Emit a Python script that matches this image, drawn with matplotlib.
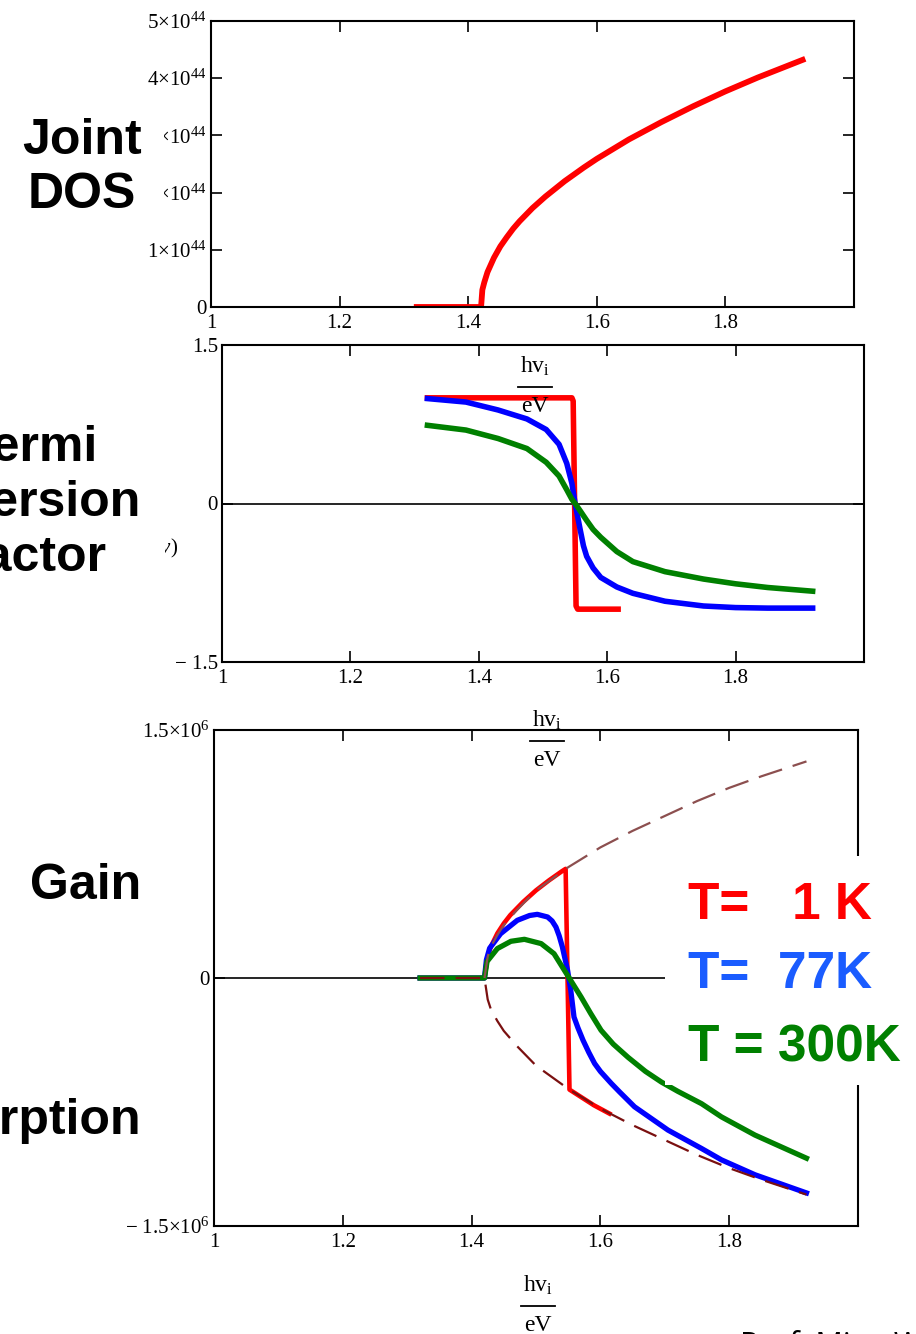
import matplotlib.pyplot as plt
from matplotlib.patches import Rectangle
from matplotlib.lines import Line2D

W, H = 916, 1334

# ---- joint density of states (units of 1e44)
jdos_x = [1.32, 1.42, 1.422, 1.425, 1.43, 1.44, 1.45, 1.46, 1.47, 1.48, 1.50,
          1.52, 1.55, 1.58, 1.60, 1.65, 1.70, 1.75, 1.80, 1.85, 1.92]
jdos_val = [0, 0, 0.30, 0.43, 0.61, 0.86, 1.06, 1.22, 1.37, 1.50, 1.73,
            1.93, 2.20, 2.44, 2.59, 2.93, 3.23, 3.51, 3.77, 4.01, 4.32]

# ---- Fermi inversion factor
fermi_x_1K = [1.32, 1.545, 1.547, 1.5515, 1.554, 1.617]
fermi_1K = [1.0, 1.0, 0.97, -0.97, -1.0, -1.0]
fermi_x = [1.32, 1.38, 1.43, 1.475, 1.505, 1.525, 1.537, 1.545, 1.55, 1.558,
           1.563, 1.568, 1.578, 1.59, 1.615, 1.64, 1.69, 1.75, 1.80, 1.85, 1.92]
fermi_77K = [0.993, 0.96, 0.885, 0.80, 0.70, 0.56, 0.38, 0.19, 0.0, -0.25,
             -0.40, -0.50, -0.61, -0.70, -0.79, -0.85, -0.925, -0.97, -0.985,
             -0.99, -0.99]
fermi_300K = [0.74, 0.695, 0.615, 0.52, 0.39, 0.26, 0.13, 0.04, 0.0, -0.07,
              -0.115, -0.16, -0.245, -0.32, -0.455, -0.55, -0.645, -0.715, -0.76,
              -0.795, -0.83]

# ---- gain / absorption (units of 1e6)
gain_x_1K = [1.32, 1.42, 1.425, 1.43, 1.44, 1.45, 1.46, 1.48, 1.50, 1.52, 1.54,
             1.546, 1.552, 1.57, 1.59, 1.614]
gain_1K = [0, 0, 0.13, 0.19, 0.27, 0.33, 0.38, 0.46, 0.53, 0.59, 0.645,
           0.66, -0.675, -0.72, -0.77, -0.82]
gain_x_77K = [1.32, 1.42, 1.423, 1.428, 1.445, 1.471, 1.49, 1.502, 1.518, 1.525,
              1.531, 1.536, 1.541, 1.549, 1.554, 1.559, 1.565, 1.573, 1.582,
              1.591, 1.60, 1.617, 1.63, 1.653, 1.705, 1.757, 1.788, 1.84, 1.92]
gain_77K = [0, 0, 0.11, 0.18, 0.268, 0.349, 0.378, 0.385, 0.369, 0.345,
            0.308, 0.255, 0.187, 0.047, -0.074, -0.236, -0.30, -0.376, -0.45,
            -0.517, -0.565, -0.638, -0.69, -0.779, -0.92, -1.031, -1.10, -1.19,
            -1.30]
gain_x_300K = [1.32, 1.42, 1.424, 1.44, 1.461, 1.482, 1.508, 1.528, 1.549, 1.57,
               1.585, 1.601, 1.62, 1.643, 1.67, 1.695, 1.72, 1.757, 1.788, 1.84,
               1.92]
gain_300K = [0, 0, 0.10, 0.178, 0.222, 0.234, 0.208, 0.147, 0.016, -0.115,
             -0.215, -0.316, -0.40, -0.48, -0.565, -0.63, -0.685, -0.76, -0.84,
             -0.95, -1.09]
env_x = [1.32, 1.42, 1.425, 1.43, 1.44, 1.45, 1.47, 1.50, 1.55, 1.60, 1.65,
         1.70, 1.75, 1.80, 1.85, 1.92]
env_upper = [0, 0, 0.13, 0.19, 0.26, 0.32, 0.41, 0.53, 0.67, 0.79, 0.89,
             0.98, 1.07, 1.15, 1.22, 1.31]
env_lower = [0, 0, -0.13, -0.19, -0.26, -0.32, -0.41, -0.53, -0.67, -0.79, -0.89,
             -0.98, -1.07, -1.15, -1.22, -1.31]

legend_labels = ["T=   1 K", "T=  77K", "T = 300K"]
legend_colors = ["#ff0000", "#1a5cff", "#008000"]

plt.rcParams['font.family'] = 'Liberation Serif'
plt.rcParams['mathtext.fontset'] = 'custom'
plt.rcParams['mathtext.rm'] = 'Liberation Serif'
plt.rcParams['mathtext.it'] = 'Liberation Serif:italic'

fig = plt.figure(figsize=(W / 100, H / 100), dpi=100)


def px_box(l, t, r, b):
    return [l / W, 1 - b / H, (r - l) / W, (b - t) / H]


def fx(x):
    return x / W


def fy(y):
    return 1 - y / H


def style(ax, yticks, ylabels):
    ax.set_xlim(1, 2)
    ax.set_xticks([1, 1.2, 1.4, 1.6, 1.8])
    ax.set_xticklabels(['1', '1.2', '1.4', '1.6', '1.8'])
    ax.set_ylim(yticks[0], yticks[-1])
    ax.set_yticks(yticks)
    ax.set_yticklabels(ylabels)
    ax.tick_params(direction='in', length=8, width=1.2, top=True, right=True,
                   labelsize=15)
    ax.tick_params(axis='x', pad=5)
    ax.tick_params(axis='y', pad=3)
    for s in ax.spines.values():
        s.set_linewidth(1.5)


def frac_label(xc, yline):
    # hv_i over eV, as drawn by the original worksheet
    fig.text(fx(xc), fy(yline - 14), r'hv$_\mathrm{i}$', fontsize=17,
             ha='center', va='baseline')
    fig.add_artist(Line2D([fx(xc - 17), fx(xc + 17)], [fy(yline), fy(yline)],
                          transform=fig.transFigure, color='black', lw=1.3,
                          zorder=3))
    fig.text(fx(xc), fy(yline + 25), 'eV', fontsize=17, ha='center',
             va='baseline')


# panel 1: joint DOS
ax1 = fig.add_axes(px_box(211, 21, 854, 307))
ax1.plot(jdos_x, [v * 1e44 for v in jdos_val], color='red', lw=4.2)
style(ax1, [0, 1e44, 2e44, 3e44, 4e44, 5e44],
      ['0', '1×10$^{44}$', '2×10$^{44}$', '3×10$^{44}$', '4×10$^{44}$', '5×10$^{44}$'])

# panel 2: Fermi inversion factor
ax2 = fig.add_axes(px_box(222, 345, 864, 662))
ax2.axhline(0, color='black', lw=1.2)
ax2.plot(fermi_x_1K, fermi_1K, color='red', lw=4)
ax2.plot(fermi_x, fermi_77K, color='blue', lw=4)
ax2.plot(fermi_x, fermi_300K, color='green', lw=4)
style(ax2, [-1.5, 0, 1.5], ['− 1.5', '0', '1.5'])

# panel 3: gain / absorption
ax3 = fig.add_axes(px_box(214, 730, 858, 1226))
ax3.axhline(0, color='black', lw=1.2)
ax3.plot(gain_x_1K, [v * 1e6 for v in gain_1K], color='red', lw=3.3)
ax3.plot(gain_x_77K, [v * 1e6 for v in gain_77K], color='blue', lw=3.8)
ax3.plot(gain_x_300K, [v * 1e6 for v in gain_300K], color='green', lw=3.8)
ax3.plot(env_x[1:], [v * 1e6 for v in env_upper[1:]], color='#8c4f4f', lw=1.6,
         dashes=(11, 5))
ax3.plot(env_x, [v * 1e6 for v in env_lower], color='#7a1010', lw=1.6,
         dashes=(11, 5))
style(ax3, [-1.5e6, 0, 1.5e6], ['− 1.5×10$^{6}$', '0', '1.5×10$^{6}$'])

# axis labels (hv_i / eV)
for xc, yl in [(535, 387), (547, 741), (538, 1306)]:
    frac_label(xc, yl)

# partly hidden y label of panel 2
fig.text(fx(178), fy(553), r'$f(\nu)$', fontsize=15, ha='right',
         va='baseline', zorder=2.5)

# white boxes that hide parts of the plots
for l, t, r, b in [(0, 98, 164, 232), (0, 400, 165, 600), (665, 856, 916, 1085)]:
    fig.add_artist(Rectangle((fx(l), fy(b)), (r - l) / W, (b - t) / H,
                             transform=fig.transFigure, facecolor='white',
                             edgecolor='none', zorder=2.8))

bold = dict(family='Liberation Sans', weight='bold', fontsize=36, zorder=3)
fig.text(fx(82), fy(168), 'Joint\nDOS', ha='center', va='center',
         multialignment='center', linespacing=1.23, **bold)
fig.text(fx(30), fy(503), 'Fermi\nInversion\nFactor', ha='center', va='center',
         multialignment='center', linespacing=1.25, **bold)
fig.text(fx(141), fy(899), 'Gain', ha='right', va='baseline', **bold)
fig.text(fx(141), fy(1134), 'Absorption', ha='right', va='baseline', **bold)

for lab, col, yb in zip(legend_labels, legend_colors, [919, 988, 1062]):
    fig.text(fx(688), fy(yb), lab, color=col, ha='left', va='baseline',
             family='Liberation Sans', weight='bold', fontsize=37, zorder=3)

fig.text(fx(740), fy(1354), 'Prof. Ming Wu', family='Open Sans', fontsize=22,
         ha='left', va='baseline')

fig.savefig('out.png', dpi=100)
